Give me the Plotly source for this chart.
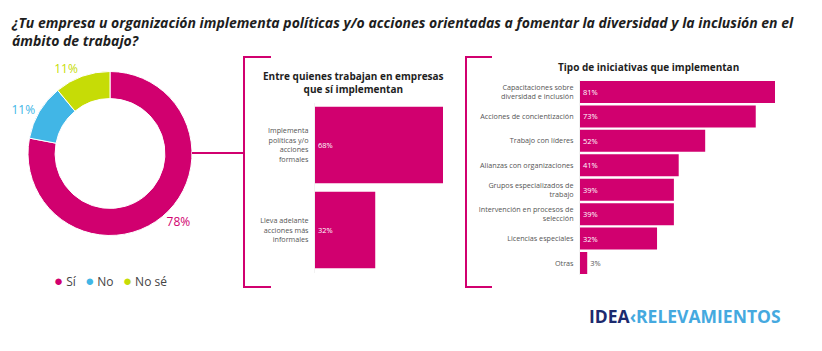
import plotly.graph_objects as go

W, H = 822, 351

# ---------------- data ----------------
title_text = ("¿Tu empresa u organización implementa políticas y/o acciones orientadas a fomentar "
              "la diversidad y la inclusión en el<br>ámbito de trabajo?")

pie_labels = ["Sí", "No", "No sé"]
pie_values = [78, 11, 11]
pie_colors = ["#d1006f", "#41b6e6", "#c6dc06"]

mid_title = "Entre quienes trabajan en empresas<br>que sí implementan"
mid_cats = ["Implementa<br>políticas y/o<br>acciones<br>formales",
            "Lleva adelante<br>acciones más<br>informales"]
mid_vals = [68, 32]

right_title = "Tipo de iniciativas que implementan"
right_cats = ["Capacitaciones sobre<br>diversidad e inclusión",
              "Acciones de concientización",
              "Trabajo con líderes",
              "Alianzas con organizaciones",
              "Grupos especializados de<br>trabajo",
              "Intervención en procesos de<br>selección",
              "Licencias especiales",
              "Otras"]
right_vals = [81, 73, 52, 41, 39, 39, 32, 3]

BAR_COLOR = "#d1006f"
TEXT_DARK = "#1e1e1e"
TICK_GRAY = "#555555"
FONT = "Open Sans"


def px(x):
    return x / W


def py(y):
    return 1 - y / H


fig = go.Figure()

# ---------------- donut ----------------
fig.add_trace(go.Pie(
    labels=pie_labels, values=pie_values, hole=0.67, sort=False,
    direction="clockwise", rotation=0,
    marker=dict(colors=pie_colors, line=dict(color="white", width=1)),
    texttemplate="%{value}%", textposition="outside",
    outsidetextfont=dict(color=pie_colors, size=12, family=FONT),
    showlegend=False, hoverinfo="label+percent",
    domain=dict(x=[px(28), px(192)], y=[py(235.5), py(71.5)]),
))

# ---------------- middle bars ----------------
fig.add_trace(go.Bar(
    x=mid_vals, y=mid_cats, orientation="h",
    marker=dict(color=BAR_COLOR, line=dict(width=0)),
    text=[f"{v}%" for v in mid_vals], textposition="inside",
    insidetextanchor="start", constraintext="none",
    textfont=dict(color="white", size=7.5, family=FONT),
    xaxis="x", yaxis="y", showlegend=False,
))

# ---------------- right bars ----------------
small = [v < 10 for v in right_vals]
fig.add_trace(go.Bar(
    x=right_vals, y=right_cats, orientation="h",
    marker=dict(color=BAR_COLOR, line=dict(width=0)),
    text=[f"{v}%" for v in right_vals],
    textposition=["outside" if s else "inside" for s in small],
    insidetextanchor="start", constraintext="none", cliponaxis=False,
    textfont=dict(color=[TICK_GRAY if s else "white" for s in small], size=7.5, family=FONT),
    xaxis="x2", yaxis="y2", showlegend=False,
))

axis_tick_font = dict(size=7.2, color=TICK_GRAY, family=FONT)

fig.update_layout(
    width=W, height=H,
    margin=dict(l=0, r=0, t=0, b=0),
    paper_bgcolor="white", plot_bgcolor="white",
    font=dict(family=FONT, color=TEXT_DARK),
    bargap=0.1,
    xaxis=dict(domain=[px(315), px(443)], range=[0, 68], visible=False, fixedrange=True),
    yaxis=dict(domain=[py(272.5), py(102.5)], autorange="reversed", anchor="x",
               showgrid=False, zeroline=False, ticks="", tickfont=axis_tick_font,
               showline=True, linecolor="#f2f2f2", linewidth=1, ticklabelstandoff=4),
    xaxis2=dict(domain=[px(580), px(775)], range=[0, 81], visible=False, anchor="y2"),
    yaxis2=dict(domain=[py(275.2), py(79.8)], autorange="reversed", anchor="x2",
                showgrid=False, zeroline=False, ticks="", tickfont=axis_tick_font,
                showline=True, linecolor="#f2f2f2", linewidth=1, ticklabelstandoff=4),
    showlegend=False,
)

# ---------------- text ----------------
legend_text = "   ".join(
    f"<span style='color:{c}; font-size:15px'>●</span> {l}" for l, c in zip(pie_labels, pie_colors))

annotations = [
    dict(text=f"<b><i>{title_text}</i></b>", x=px(9), y=py(11), xref="paper", yref="paper",
         xanchor="left", yanchor="top", align="left", showarrow=False,
         font=dict(size=14, color=TEXT_DARK, family=FONT)),
    dict(text=f"<b>{mid_title}</b>", x=px(353), y=py(82), xref="paper", yref="paper",
         xanchor="center", yanchor="middle", align="center", showarrow=False,
         font=dict(size=10, color=TEXT_DARK, family=FONT)),
    dict(text=f"<b>{right_title}</b>", x=px(648), y=py(67), xref="paper", yref="paper",
         xanchor="center", yanchor="middle", align="center", showarrow=False,
         font=dict(size=10, color=TEXT_DARK, family=FONT)),
    dict(text=legend_text, x=px(52), y=py(280), xref="paper", yref="paper",
         xanchor="left", yanchor="middle", showarrow=False,
         font=dict(size=12, color="#444444", family=FONT)),
    dict(text="<b><span style='color:#1c2a6e'>IDEA</span><span style='color:#45a9df'>‹RELEVAMIENTOS</span></b>",
         x=px(587), y=py(316), xref="paper", yref="paper",
         xanchor="left", yanchor="middle", showarrow=False,
         font=dict(size=17.5, family=FONT)),
]
fig.update_layout(annotations=annotations)

# ---------------- connector / brackets ----------------
line_style = dict(color=BAR_COLOR, width=2)
shapes = [
    dict(type="line", xref="paper", yref="paper", x0=px(192), x1=px(244), y0=py(153), y1=py(153), line=line_style),
    dict(type="path", xref="paper", yref="paper",
         path=f"M {px(271)},{py(57)} L {px(244)},{py(57)} L {px(244)},{py(287)} L {px(271)},{py(287)}",
         line=line_style),
    dict(type="path", xref="paper", yref="paper",
         path=f"M {px(492)},{py(57)} L {px(466)},{py(57)} L {px(466)},{py(287)} L {px(492)},{py(287)}",
         line=line_style),
]
fig.update_layout(shapes=shapes)

fig.write_html("out.html")
